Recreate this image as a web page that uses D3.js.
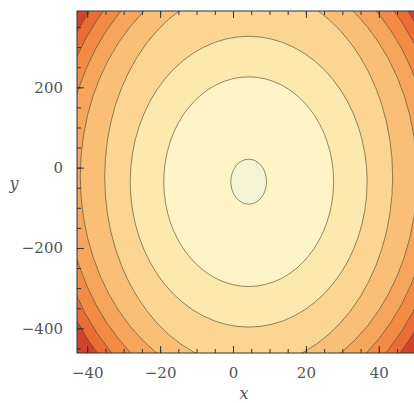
<!DOCTYPE html>
<html lang="en">
<head>
  <meta charset="UTF-8">
  <title>Contour plot</title>
  <script src="https://cdnjs.cloudflare.com/ajax/libs/d3/7.8.5/d3.min.js"></script>
  <style>
    body{ margin: 0; background: #fff; }
    .axis path{ display: none; }
    .axis line{ stroke: #333; stroke-width: 1px; }
    .axis text{
      font-family: 'DejaVu Serif';
      font-size: 15px;
      fill: #555;
    }
    .axisLabel{
      font-family: 'DejaVu Serif';
      font-style: italic;
      font-size: 16px;
      fill: #555;
    }
    .contour{
      stroke: #45452a;
      stroke-opacity: 0.6;
      stroke-width: 1px;
    }
  </style>
</head>
<body>
  <div class="container"></div>
<script>
  // tick values
  var xTicks = [-40, -20, 0, 20, 40];
  var yTicks = [-400, -200, 0, 200];
  var xMinor = [-40, -35, -30, -25, -20, -15, -10, -5, 0, 5, 10, 15, 20, 25, 30, 35, 40, 45, 50];
  var yMinor = [-450, -400, -350, -300, -250, -200, -150, -100, -50, 0, 50, 100, 150, 200, 250, 300, 350];

  // contour ellipses, innermost first (data units)
  var contourCx = [4.3, 4.3, 4.3, 4.3, 4.3, 4.3, 4.3, 4.3];
  var contourCy = [-35, -35, -35, -23, -22, -22, -22, -22];
  var contourRx = [4.9, 23.3, 32.5, 39.5, 46.2, 50.5, 54.0, 56.8];
  var contourRy = [56, 261, 362, 472, 525, 572, 612, 645];

  // band fill, from inside the first contour to outside the last
  var bandColors = ['#F5F5D5', '#FEF4C6', '#FDE8AE', '#FBD592', '#F9BF76',
                    '#F6A65C', '#F28B46', '#EA6D35', '#D2432B'];

  var margin = {top: 11, left: 77};
  var svgWidth = 414, svgHeight = 403;
  var plotW = 95 * 3.645, plotH = 342;

  var svg = d3.select('.container')
              .append('svg')
              .attr('width', svgWidth)
              .attr('height', svgHeight);

  var x = d3.scaleLinear()
            .domain([-42.8, 52.2])
            .range([margin.left, margin.left + plotW]);
  var y = d3.scaleLinear()
            .domain([-461.5, 390])
            .range([margin.top + plotH, margin.top]);

  svg.append('clipPath')
     .attr('id', 'plotClip')
     .append('rect')
     .attr('x', margin.left)
     .attr('y', margin.top)
     .attr('width', plotW)
     .attr('height', plotH);

  var plot = svg.append('g').attr('clip-path', 'url(#plotClip)');

  // outermost band as background
  plot.append('rect')
      .attr('x', margin.left)
      .attr('y', margin.top)
      .attr('width', plotW)
      .attr('height', plotH)
      .style('fill', bandColors[bandColors.length - 1]);

  var contours = contourRx.map((rx, i) => ({
    cx: contourCx[i], cy: contourCy[i], rx: rx, ry: contourRy[i], fill: bandColors[i]
  })).reverse();

  plot.selectAll('.contour')
      .data(contours)
      .enter().append('ellipse')
      .attr('class', 'contour')
      .attr('cx', d => x(d.cx))
      .attr('cy', d => y(d.cy))
      .attr('rx', d => x(d.cx + d.rx) - x(d.cx))
      .attr('ry', d => y(d.cy) - y(d.cy + d.ry))
      .style('fill', d => d.fill);

  // frame
  svg.append('rect')
     .attr('x', margin.left)
     .attr('y', margin.top)
     .attr('width', plotW)
     .attr('height', plotH)
     .style('fill', 'none')
     .style('stroke', '#333')
     .style('stroke-width', 1);

  // axes: major + minor ticks, all pointing inward
  svg.append('g')
     .attr('class', 'axis')
     .attr('transform', `translate(0,${margin.top + plotH})`)
     .call(d3.axisBottom(x).tickValues(xMinor).tickSize(-4).tickFormat(''));
  svg.append('g')
     .attr('class', 'axis')
     .attr('transform', `translate(0,${margin.top + plotH})`)
     .call(d3.axisBottom(x).tickValues(xTicks).tickSize(-7).tickPadding(14)
           .tickFormat(d => d < 0 ? '\u2212' + Math.abs(d) : d));
  svg.append('g')
     .attr('class', 'axis')
     .attr('transform', `translate(0,${margin.top})`)
     .call(d3.axisTop(x).tickValues(xMinor).tickSize(-4).tickFormat(''));
  svg.append('g')
     .attr('class', 'axis')
     .attr('transform', `translate(0,${margin.top})`)
     .call(d3.axisTop(x).tickValues(xTicks).tickSize(-7).tickFormat(''));

  svg.append('g')
     .attr('class', 'axis')
     .attr('transform', `translate(${margin.left},0)`)
     .call(d3.axisLeft(y).tickValues(yMinor).tickSize(-4).tickFormat(''));
  svg.append('g')
     .attr('class', 'axis')
     .attr('transform', `translate(${margin.left},0)`)
     .call(d3.axisLeft(y).tickValues(yTicks).tickSize(-7).tickPadding(14)
           .tickFormat(d => d < 0 ? '\u2212' + Math.abs(d) : d));

  svg.append('text')
     .attr('class', 'axisLabel')
     .attr('x', 244)
     .attr('y', 399)
     .style('text-anchor', 'middle')
     .text('x');
  svg.append('text')
     .attr('class', 'axisLabel')
     .attr('x', 14)
     .attr('y', 189)
     .style('text-anchor', 'middle')
     .text('y');
</script>
</body>
</html>
